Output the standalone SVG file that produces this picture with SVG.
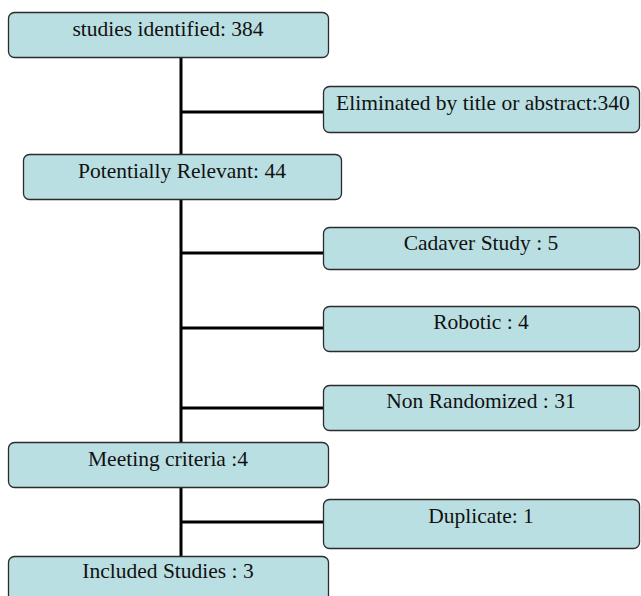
<svg xmlns="http://www.w3.org/2000/svg" width="641" height="596" viewBox="0 0 641 596">
<style>
.box{fill:#badfe2;stroke:#2b2b2b;stroke-width:1.3}
.t{font-family:'Liberation Serif','DejaVu Serif','Noto Serif',serif;font-size:21.5px;fill:#111;text-anchor:middle}
.c{stroke:#000;stroke-width:3;fill:none}
</style>
<rect width="641" height="596" fill="#fff"/>
<g id="connectors">
<line class="c" x1="181" y1="57" x2="181" y2="154"/>
<line class="c" x1="181" y1="112" x2="323" y2="112"/>
<line class="c" x1="181" y1="199" x2="181" y2="442"/>
<line class="c" x1="181" y1="253" x2="323" y2="253"/>
<line class="c" x1="181" y1="328" x2="323" y2="328"/>
<line class="c" x1="181" y1="408" x2="323" y2="408"/>
<line class="c" x1="181" y1="488" x2="181" y2="556"/>
<line class="c" x1="181" y1="522" x2="323" y2="522"/>
</g>
<g id="n1"><rect class="box" x="8.5" y="12.5" width="320" height="45" rx="6"/><text class="t" x="168" y="36">studies identified: 384</text></g>
<g id="n2"><rect class="box" x="323.5" y="86.5" width="316" height="46" rx="6"/><text class="t" x="483" y="110">Eliminated by title or abstract:340</text></g>
<g id="n3"><rect class="box" x="23.5" y="154.5" width="318" height="45" rx="6"/><text class="t" x="182" y="178">Potentially Relevant: 44</text></g>
<g id="n4"><rect class="box" x="323.5" y="227.5" width="316" height="42" rx="6"/><text class="t" x="481" y="250">Cadaver Study : 5</text></g>
<g id="n5"><rect class="box" x="323.5" y="306.5" width="316" height="45" rx="6"/><text class="t" x="481" y="329">Robotic : 4</text></g>
<g id="n6"><rect class="box" x="323.5" y="385.5" width="316" height="45" rx="6"/><text class="t" x="481" y="408">Non Randomized : 31</text></g>
<g id="n7"><rect class="box" x="8.5" y="442.5" width="320" height="45" rx="6"/><text class="t" x="168" y="466">Meeting criteria :4</text></g>
<g id="n8"><rect class="box" x="323.5" y="499.5" width="316" height="49" rx="6"/><text class="t" x="481" y="523">Duplicate: 1</text></g>
<g id="n9"><rect class="box" x="8.5" y="556.5" width="320" height="45" rx="6"/><text class="t" x="168" y="578">Included Studies : 3</text></g>
</svg>
